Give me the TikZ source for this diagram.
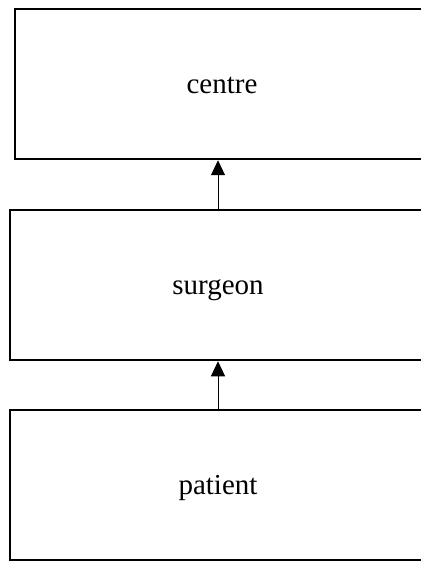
\documentclass[tikz,border=0pt]{standalone}
\usepackage{fontspec}
\setmainfont{Liberation Serif}
\usetikzlibrary{arrows.meta}

\begin{document}
\begin{tikzpicture}[x=1pt,y=-1pt,
    every node/.style={draw, line width=2pt, minimum height=150.5pt,
      inner sep=0pt, text height=22pt, text depth=3pt,
      font=\fontsize{29}{34}\selectfont}]
    \useasboundingbox (0,0) rectangle (420,561);
    \node[minimum width=415pt] (centre)  at (222,84)  {centre};
    \node[minimum width=417pt] (surgeon) at (218,285) {surgeon};
    \node[minimum width=416pt] (patient) at (218,485) {patient};
    \foreach \from/\to in
    {patient/surgeon,surgeon/centre}
    \draw[line width=1pt, -{Triangle[width=14pt,length=15pt]}]
      (\from.north) -- (\from.north |- \to.south);
  \end{tikzpicture}
\end{document}
